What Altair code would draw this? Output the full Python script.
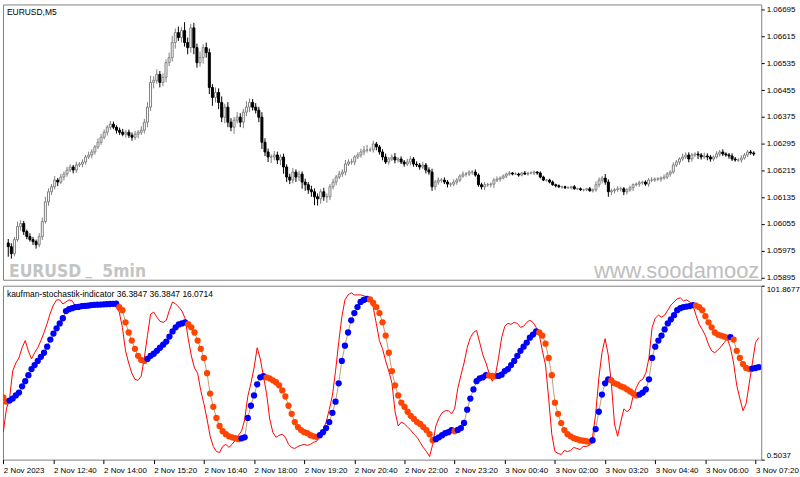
import altair as alt
import pandas as pd

# ---------------- data ----------------
close = [
    1.05987, 1.05966, 1.06008, 1.06047, 1.06056, 1.06032, 1.06017, 1.06008, 1.06002, 1.05993,
    1.06017, 1.06062, 1.06121, 1.06151, 1.06166, 1.06186, 1.06180, 1.06195, 1.06204, 1.06216,
    1.06225, 1.06216, 1.06231, 1.06234, 1.06240, 1.06255, 1.06261, 1.06270, 1.06285, 1.06299,
    1.06314, 1.06329, 1.06344, 1.06353, 1.06344, 1.06335, 1.06329, 1.06323, 1.06329, 1.06320,
    1.06314, 1.06323, 1.06329, 1.06335, 1.06359, 1.06404, 1.06478, 1.06484, 1.06502, 1.06478,
    1.06493, 1.06537, 1.06552, 1.06597, 1.06627, 1.06612, 1.06633, 1.06597, 1.06582, 1.06641,
    1.06582, 1.06537, 1.06552, 1.06582, 1.06567, 1.06463, 1.06433, 1.06448, 1.06418, 1.06374,
    1.06404, 1.06359, 1.06344, 1.06365, 1.06374, 1.06359, 1.06389, 1.06404, 1.06418, 1.06404,
    1.06395, 1.06374, 1.06299, 1.06270, 1.06255, 1.06255, 1.06261, 1.06246, 1.06255, 1.06225,
    1.06195, 1.06186, 1.06210, 1.06195, 1.06204, 1.06180, 1.06172, 1.06157, 1.06151, 1.06136,
    1.06130, 1.06151, 1.06136, 1.06136, 1.06166, 1.06180, 1.06195, 1.06204, 1.06210, 1.06234,
    1.06240, 1.06240, 1.06255, 1.06261, 1.06270, 1.06276, 1.06276, 1.06276, 1.06294, 1.06285,
    1.06270, 1.06255, 1.06240, 1.06249, 1.06255, 1.06246, 1.06249, 1.06240, 1.06234, 1.06240,
    1.06249, 1.06234, 1.06231, 1.06225, 1.06231, 1.06216, 1.06210, 1.06166, 1.06180, 1.06186,
    1.06186, 1.06180, 1.06174, 1.06174, 1.06180, 1.06186, 1.06198, 1.06204, 1.06204, 1.06210,
    1.06210, 1.06201, 1.06172, 1.06166, 1.06172, 1.06172, 1.06174, 1.06186, 1.06189, 1.06192,
    1.06198, 1.06204, 1.06207, 1.06204, 1.06204, 1.06201, 1.06207, 1.06204, 1.06207, 1.06207,
    1.06210, 1.06207, 1.06195, 1.06186, 1.06186, 1.06180, 1.06172, 1.06169, 1.06166, 1.06166,
    1.06163, 1.06163, 1.06166, 1.06160, 1.06160, 1.06157, 1.06157, 1.06160, 1.06154, 1.06157,
    1.06172, 1.06186, 1.06192, 1.06180, 1.06151, 1.06154, 1.06157, 1.06160, 1.06160, 1.06151,
    1.06157, 1.06163, 1.06172, 1.06174, 1.06178, 1.06180, 1.06174, 1.06186, 1.06186, 1.06189,
    1.06189, 1.06192, 1.06195, 1.06204, 1.06210, 1.06231, 1.06240, 1.06249, 1.06255, 1.06261,
    1.06249, 1.06261, 1.06264, 1.06261, 1.06255, 1.06258, 1.06255, 1.06249, 1.06255, 1.06264,
    1.06270, 1.06264, 1.06261, 1.06258, 1.06249, 1.06246, 1.06246, 1.06252, 1.06261, 1.06270,
    1.06267, 1.06264,
]
first_open = 1.05998

# wick lengths beyond the body, in points (0.00001)
up_wick = [
    12, 10, 8, 15, 10, 8, 6, 10, 8, 6, 10, 12, 15, 10, 8, 12, 6, 10, 8, 10,
    8, 6, 10, 6, 8, 6, 10, 8, 6, 12, 10, 8, 6, 10, 8, 6, 8, 10, 6, 8,
    8, 10, 6, 12, 10, 15, 20, 12, 15, 10, 12, 10, 15, 20, 12, 18, 10, 25, 15, 12,
    15, 12, 18, 10, 15, 12, 10, 15, 12, 18, 10, 15, 12, 10, 15, 12, 10, 18, 12, 10,
    12, 10, 15, 12, 10, 8, 12, 10, 8, 10, 8, 10, 12, 8, 10, 8, 10, 8, 12, 10,
    10, 8, 12, 10, 8, 10, 6, 10, 8, 12, 8, 10, 6, 8, 10, 12, 15, 8, 10, 6,
    6, 8, 10, 6, 8, 12, 6, 8, 6, 10, 8, 6, 8, 6, 10, 6, 8, 10, 6, 8,
    6, 8, 6, 5, 8, 6, 5, 8, 6, 5, 6, 8, 5, 6, 8, 6, 5, 6, 8, 5,
    5, 4, 6, 3, 5, 4, 3, 6, 4, 5, 4, 3, 5, 4, 3, 4, 5, 3, 4, 3,
    3, 4, 3, 5, 3, 4, 3, 3, 5, 4, 10, 8, 6, 12, 8, 6, 5, 8, 6, 5,
    5, 6, 4, 5, 6, 4, 5, 6, 8, 5, 6, 5, 8, 6, 5, 8, 6, 5, 10, 8,
    8, 6, 5, 8, 6, 10, 8, 6, 5, 8, 6, 8, 5, 6, 8, 6, 5, 8, 6, 5,
    6, 5,
]
dn_wick = [
    30, 15, 8, 6, 12, 10, 8, 6, 10, 12, 8, 10, 6, 12, 10, 8, 12, 6, 10, 8,
    6, 10, 8, 6, 10, 8, 6, 10, 8, 6, 8, 6, 10, 8, 6, 10, 8, 6, 10, 8,
    10, 8, 12, 8, 10, 15, 12, 18, 10, 15, 12, 15, 10, 12, 18, 10, 15, 12, 20, 15,
    20, 15, 12, 18, 15, 20, 25, 15, 20, 15, 18, 15, 12, 20, 10, 15, 18, 12, 15, 10,
    10, 15, 20, 12, 15, 18, 10, 12, 15, 20, 15, 12, 10, 15, 12, 20, 18, 12, 15, 25,
    20, 15, 12, 18, 10, 8, 10, 6, 8, 10, 6, 8, 10, 6, 8, 10, 8, 6, 8, 10,
    8, 10, 6, 8, 6, 10, 8, 6, 8, 6, 10, 8, 6, 8, 6, 10, 8, 12, 10, 8,
    8, 6, 10, 8, 6, 8, 6, 5, 8, 6, 8, 5, 6, 8, 10, 6, 8, 12, 6, 8,
    4, 6, 5, 4, 3, 5, 4, 3, 5, 4, 6, 5, 4, 3, 5, 4, 3, 5, 4, 6,
    4, 3, 5, 3, 4, 3, 5, 4, 3, 5, 6, 8, 10, 8, 15, 10, 8, 6, 8, 10,
    8, 6, 10, 5, 8, 6, 5, 8, 6, 5, 6, 8, 5, 6, 8, 5, 6, 8, 5, 6,
    10, 8, 6, 12, 8, 6, 10, 8, 6, 5, 8, 6, 5, 8, 6, 5, 6, 8, 5, 6,
    5, 6,
]

# indicator: smoothed line (dots) and fast red line
signal = [
    36.7, 34.3, 34.9, 36.1, 37.9, 39.6, 43.2, 46.2, 49.7, 53.3,
    55.6, 58.0, 60.4, 62.8, 66.3, 70.5, 74.0, 77.0, 79.9, 82.9,
    87.1, 88.2, 88.8, 89.4, 89.5, 90.0, 90.1, 90.2, 90.6, 90.7,
    90.8, 90.9, 91.0, 91.1, 91.2, 91.3, 91.4, 89.4, 87.6, 80.5,
    74.6, 69.9, 65.1, 61.0, 58.6, 58.0, 59.2, 61.0, 62.2, 63.9,
    65.7, 67.5, 69.3, 72.2, 75.2, 77.6, 79.3, 79.9, 80.5, 79.4,
    77.6, 74.6, 69.9, 65.1, 59.8, 50.9, 39.0, 31.3, 24.8, 20.1,
    17.1, 15.3, 14.1, 13.5, 13.0, 12.4, 12.9, 13.5, 24.8, 31.9,
    37.9, 44.4, 48.5, 49.1, 48.5, 47.9, 46.7, 45.6, 43.8, 40.8,
    37.3, 31.9, 27.2, 22.4, 19.5, 17.7, 16.5, 15.9, 14.7, 14.1,
    13.8, 14.7, 16.5, 18.9, 22.4, 27.8, 34.3, 45.0, 58.0, 66.9,
    74.6, 81.7, 85.9, 89.4, 92.4, 93.6, 94.2, 93.9, 91.8, 89.4,
    85.9, 80.5, 72.8, 62.8, 52.1, 43.8, 37.9, 33.7, 31.3, 28.4,
    26.0, 24.2, 22.4, 21.3, 19.5, 17.7, 15.3, 11.8, 12.4, 13.5,
    14.7, 15.9, 16.5, 17.7, 17.1, 17.8, 18.9, 21.9, 29.6, 36.1,
    41.4, 46.2, 47.9, 48.5, 49.7, 49.5, 49.3, 49.1, 49.3, 50.0,
    52.1, 53.3, 55.6, 58.0, 61.0, 63.9, 66.3, 68.7, 71.6, 73.4,
    75.2, 74.6, 72.8, 68.1, 59.8, 49.7, 33.7, 27.2, 21.8, 17.7,
    15.3, 14.1, 13.0, 12.4, 11.8, 11.5, 11.2, 10.9, 11.8, 18.3,
    28.4, 38.4, 45.0, 47.3, 46.7, 45.0, 44.4, 43.2, 42.6, 41.4,
    40.2, 39.0, 37.9, 38.4, 39.6, 41.4, 47.3, 59.8, 66.3, 69.9,
    72.8, 76.4, 79.9, 82.3, 84.7, 87.6, 88.8, 89.4, 89.7, 90.0,
    90.6, 90.3, 89.4, 87.6, 84.1, 80.5, 77.6, 74.6, 73.4, 72.8,
    72.2, 71.6, 71.9, 70.5, 63.9, 59.8, 56.2, 53.9, 53.3, 53.6,
    53.9, 54.4,
]
state = (
    "OOBBBBBBBB" "BBBBBBBBBB" "BBBBBBBBBB" "BBBBBBBOOO" "OOOOOOBBBB"
    "BBBBBBBBBO" "OOOOOOOOOO" "OOOOOOBBBB" "BBBBOOOOOO" "OOOOOOOOOO"
    "OBBBBBBBBB" "BBBBBBBOOO" "OOOOOOOOOO" "OOOOOOOOBB" "BBBBOBBBBB"
    "BBBBBOOOBB" "BBBBBBBBBB" "BOOOOOOOOO" "OOOOOOOOBB" "BBBBOOOOOO"
    "OOOBBBBBBB" "BBBBBBBBBB" "BOOOOOOOOO" "OOBOOOOOOB" "BB"
)
fast = [
    16.5, 30.1, 36.1, 52.1, 56.8, 59.8, 65.7, 69.9, 63.9, 59.2,
    62.8, 65.7, 69.9, 74.6, 79.9, 85.9, 90.6, 93.6, 93.6, 91.2,
    92.4, 93.6, 93.0, 90.0, 89.4, 90.6, 90.0, 89.4, 91.2, 91.8,
    91.2, 90.6, 91.2, 91.8, 91.2, 90.6, 89.4, 86.5, 77.6, 63.9,
    56.8, 50.9, 47.3, 46.7, 49.1, 59.8, 72.8, 85.3, 86.5, 83.5,
    81.1, 80.5, 81.7, 87.6, 92.4, 91.2, 89.4, 87.1, 82.9, 71.0,
    61.0, 53.9, 50.9, 40.8, 33.1, 24.2, 14.1, 8.2, 5.2, 4.7,
    8.2, 9.4, 7.6, 9.4, 11.8, 14.7, 17.1, 23.6, 37.3, 45.0,
    53.9, 65.7, 59.2, 49.1, 39.0, 24.2, 16.5, 13.5, 14.7, 15.3,
    13.5, 9.4, 7.6, 7.0, 8.2, 8.8, 9.4, 8.8, 9.4, 10.6,
    11.2, 14.1, 17.7, 22.4, 29.6, 37.9, 52.1, 68.7, 83.5, 93.6,
    96.5, 97.7, 96.5, 96.5, 96.5, 96.0, 95.4, 94.2, 89.4, 79.9,
    69.9, 65.1, 58.0, 52.1, 45.0, 28.4, 20.1, 22.4, 21.3, 19.5,
    17.7, 15.3, 13.5, 10.6, 7.6, 5.2, 2.3, 9.4, 20.1, 24.8,
    27.8, 29.0, 29.0, 27.2, 30.1, 42.0, 49.7, 56.8, 65.7, 71.6,
    74.6, 75.8, 68.7, 61.6, 56.8, 50.9, 46.2, 49.7, 59.8, 71.6,
    78.2, 79.9, 79.4, 80.5, 79.9, 77.6, 78.2, 80.5, 81.7, 80.5,
    77.6, 73.4, 63.9, 55.6, 36.1, 15.3, 5.2, 4.1, 3.5, 5.8,
    5.2, 5.8, 7.6, 7.0, 6.4, 8.2, 8.2, 8.8, 13.5, 27.2,
    47.9, 62.8, 71.0, 61.6, 45.0, 21.3, 14.1, 22.4, 30.1, 28.4,
    30.1, 37.9, 42.6, 46.2, 47.3, 50.9, 59.8, 77.6, 82.9, 84.7,
    83.5, 84.7, 87.6, 90.6, 92.4, 94.2, 94.8, 93.0, 93.6, 92.4,
    90.6, 84.7, 79.4, 76.4, 72.8, 67.5, 63.9, 62.8, 64.5, 66.3,
    68.7, 71.0, 65.7, 56.8, 43.8, 36.1, 29.0, 33.1, 45.0, 56.8,
    68.7, 71.6,
]

price_ticks = [1.06695, 1.06615, 1.06535, 1.06455, 1.06375, 1.06295,
               1.06215, 1.06135, 1.06055, 1.05975, 1.05895]
price_range = [1.05888, 1.06711]
ind_range = [0.5037, 101.8677]
first_bar = "2023-11-02 11:20"
view_start = "2023-11-02 11:19:30"
view_end = "2023-11-03 07:29:06"
label_every = 16

symbol_title = "EURUSD,M5"
ind_title = "kaufman-stochastik-indicator 36.3847 36.3847 16.0714"
wm_left_words = ["EURUSD", "_", "5min"]
wm_right = "www.soodamooz"

# ---------------- build tables ----------------
n = len(close)
assert len(up_wick) == n and len(dn_wick) == n and len(signal) == n and len(fast) == n and len(state) == n, \
    (n, len(up_wick), len(dn_wick), len(signal), len(fast), len(state))

times = pd.date_range(first_bar, periods=n, freq="5min", tz="UTC")
time_str = [t.strftime("%Y-%m-%dT%H:%M:%SZ") for t in times]
opens = [first_open] + close[:-1]
rows = []
for i in range(n):
    o, c = opens[i], close[i]
    rows.append({
        "time": time_str[i],
        "open": o, "close": c,
        "high": max(o, c) + up_wick[i] / 1e5,
        "low": min(o, c) - dn_wick[i] / 1e5,
        "dir": "up" if c >= o else "down",
        "signal": signal[i], "fast": fast[i], "state": state[i],
    })
df = pd.DataFrame(rows)

def ms(s):
    return int(pd.Timestamp(s, tz="UTC").value // 10**6)

x_domain = [ms(view_start), ms(view_end)]
tick_vals = [int(times[i].value // 10**6) for i in range(0, n, label_every)]

FONT = "Liberation Sans"

x_top = alt.X("time:T", scale=alt.Scale(type="utc", domain=x_domain), axis=None)
price_scale = alt.Scale(domain=price_range, zero=False, nice=False)
price_axis = alt.Axis(orient="right", values=price_ticks, format=".5f", title=None,
                      grid=False, domain=False, tickSize=3, labelPadding=2,
                      labelOverlap=False, labelBound=False)

wicks = alt.Chart(df).mark_rule(strokeWidth=1, clip=True).encode(
    x=x_top,
    y=alt.Y("low:Q", scale=price_scale, axis=price_axis),
    y2="high:Q",
    stroke=alt.Stroke("dir:N", scale=alt.Scale(domain=["up", "down"], range=["#808080", "#000000"]), legend=None),
)
bodies = alt.Chart(df).mark_bar(size=2, strokeWidth=1, clip=True).encode(
    x=x_top,
    y=alt.Y("open:Q", scale=price_scale, axis=price_axis),
    y2="close:Q",
    fill=alt.Fill("dir:N", scale=alt.Scale(domain=["up", "down"], range=["#FFFFFF", "#000000"]), legend=None),
    stroke=alt.Stroke("dir:N", scale=alt.Scale(domain=["up", "down"], range=["#808080", "#000000"]), legend=None),
)

def label(txt, x, y, size, color="#000000", weight="normal", align="left", baseline="middle", font=FONT):
    return alt.Chart(pd.DataFrame({"t": [txt]})).mark_text(
        align=align, baseline=baseline, fontSize=size, fontWeight=weight, color=color, font=font
    ).encode(text="t:N", x=alt.value(x), y=alt.value(y))

WM_FONT = "Liberation Sans Narrow, DejaVu Sans Condensed, sans-serif"
top = alt.layer(
    wicks, bodies,
    label(symbol_title, 4, 8, 8.5),
    label(wm_left_words[0], 6, 274, 17.5, color="#C4C4C4", weight="bold", baseline="alphabetic", font=WM_FONT),
    label(wm_left_words[1], 83, 272, 15, color="#C4C4C4", weight="bold", baseline="alphabetic", font=WM_FONT),
    label(wm_left_words[2], 100, 274, 17.5, color="#C4C4C4", weight="bold", baseline="alphabetic", font=WM_FONT),
    label(wm_right, 761, 275, 22, color="#BEBEBE", align="right", baseline="alphabetic"),
).properties(width=763, height=277)

x_bot = alt.X("time:T", scale=alt.Scale(type="utc", domain=x_domain),
              axis=alt.Axis(values=tick_vals, title=None, grid=False, domain=False, tickSize=4,
                            labelAlign="left", labelBaseline="top", labelPadding=3, labelOverlap=False,
                            labelBound=False, labelFlush=False,
                            labelExpr="utcFormat(datum.value, '%H:%M') == '11:20' ? '2 Nov 2023' : utcFormat(datum.value, '%-d %b %H:%M')"))
ind_scale = alt.Scale(domain=ind_range, zero=False, nice=False)
ind_axis = alt.Axis(orient="right", values=[ind_range[1], ind_range[0]], format=".4f", title=None,
                    grid=False, domain=False, tickSize=3, labelPadding=2, labelFlush=True,
                    labelOverlap=False)

red = alt.Chart(df).mark_line(color="#FF0000", strokeWidth=1, clip=True).encode(
    x=x_bot, y=alt.Y("fast:Q", scale=ind_scale, axis=ind_axis))
link = alt.Chart(df).mark_line(color="#C49A6C", strokeWidth=1, clip=True).encode(
    x=x_bot, y=alt.Y("signal:Q", scale=ind_scale, axis=ind_axis))
dots = alt.Chart(df).mark_circle(size=40, opacity=1, clip=True).encode(
    x=x_bot, y=alt.Y("signal:Q", scale=ind_scale, axis=ind_axis),
    color=alt.Color("state:N", scale=alt.Scale(domain=["B", "O"], range=["#0000FF", "#FF4500"]), legend=None),
)

bottom = alt.layer(
    red, link, dots,
    label(ind_title, 4, 8, 8.5),
).properties(width=763, height=175)

chart = alt.vconcat(top, bottom, spacing=2).resolve_scale(
    color="independent", fill="independent", stroke="independent", x="independent", y="independent"
).properties(
    padding={"left": 2, "top": 2, "right": 0, "bottom": 0},
    background="#FFFFFF",
).configure_view(stroke="#808080", strokeWidth=1).configure_axis(
    labelFont=FONT, labelFontSize=8, labelColor="#000000", tickColor="#000000",
)

chart.save("out.html", embed_options={"renderer": "svg", "actions": False})
